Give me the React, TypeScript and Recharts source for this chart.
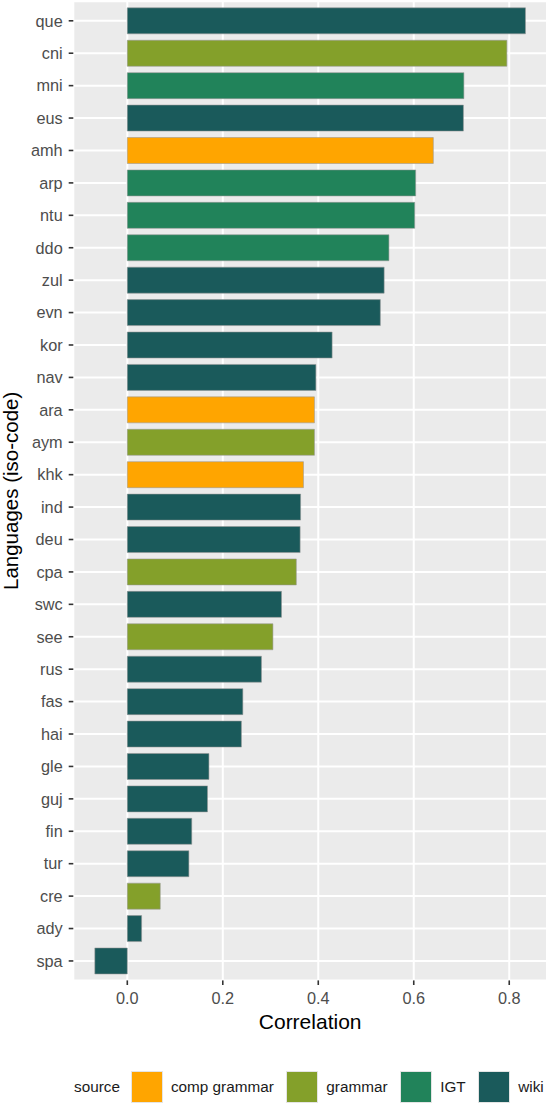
import { Bar, BarChart, CartesianGrid, Cell, XAxis, YAxis } from "recharts";

const languages = [
  "que", "cni", "mni", "eus", "amh", "arp", "ntu", "ddo", "zul", "evn",
  "kor", "nav", "ara", "aym", "khk", "ind", "deu", "cpa", "swc", "see",
  "rus", "fas", "hai", "gle", "guj", "fin", "tur", "cre", "ady", "spa",
];
const correlations = [
  0.834, 0.795, 0.705, 0.704, 0.641, 0.604, 0.602, 0.548, 0.538, 0.53,
  0.429, 0.395, 0.392, 0.392, 0.369, 0.363, 0.362, 0.354, 0.323, 0.305,
  0.281, 0.242, 0.239, 0.171, 0.168, 0.135, 0.129, 0.069, 0.03, -0.068,
];
const languageSources = [
  "wiki", "grammar", "IGT", "wiki", "comp grammar", "IGT", "IGT", "IGT", "wiki", "wiki",
  "wiki", "wiki", "comp grammar", "grammar", "comp grammar", "wiki", "wiki", "grammar", "wiki", "grammar",
  "wiki", "wiki", "wiki", "wiki", "wiki", "wiki", "wiki", "grammar", "wiki", "wiki",
];
const sourceNames = ["comp grammar", "grammar", "IGT", "wiki"];
const sourceColors = ["#FFA500", "#84A02A", "#21835A", "#1A5A5B"];
const majorTicks = [0, 0.2, 0.4, 0.6, 0.8];
const minorTicks = [-0.1, 0.1, 0.3, 0.5, 0.7];

const data = languages.map((lang, i) => ({
  lang,
  value: correlations[i],
  source: languageSources[i],
}));

const FONT = '"Liberation Sans", Arial, Helvetica, sans-serif';
const domain: [number, number] = [-0.1131, 0.8791];

function colorOf(source: string) {
  return sourceColors[sourceNames.indexOf(source)];
}

export default function App() {
  return (
    <div style={{ position: "relative", width: 548, height: 1104, fontFamily: FONT }}>
      <style>{`body{margin:0}`}</style>
      <BarChart
        width={548}
        height={1104}
        data={data}
        layout="vertical"
        barCategoryGap="10%"
        margin={{ top: 1.35, right: 1, left: 0, bottom: 63.6 }}
      >
        <CartesianGrid fill="#EBEBEB" stroke="#FFFFFF" strokeWidth={2} />
        <CartesianGrid xAxisId="minor" horizontal={false} stroke="#FFFFFF" strokeWidth={1} />
        <XAxis
          type="number"
          domain={domain}
          ticks={majorTicks}
          tickFormatter={(v: number) => v.toFixed(1)}
          axisLine={false}
          tickLine={{ stroke: "#333333", strokeWidth: 1.6 }}
          tickSize={4.6}
          tickMargin={7}
          height={60}
          tick={{ fill: "#4D4D4D", fontSize: 16.3, fontFamily: FONT }}
          label={(props: any) => {
            const vb = props.viewBox;
            return (
              <text
                x={vb.x + vb.width / 2}
                y={1029.3}
                textAnchor="middle"
                fill="#000000"
                fontSize={21}
                fontFamily={FONT}
              >
                Correlation
              </text>
            );
          }}
        />
        <XAxis xAxisId="minor" type="number" domain={domain} ticks={minorTicks} hide />
        <YAxis
          type="category"
          dataKey="lang"
          width={73.3}
          axisLine={false}
          tickLine={{ stroke: "#333333", strokeWidth: 1.6 }}
          tickSize={4.6}
          tickMargin={6}
          padding={{ top: 3.24, bottom: 3.24 }}
          interval={0}
          tick={{ fill: "#4D4D4D", fontSize: 16.3, fontFamily: FONT }}
          label={(props: any) => {
            const vb = props.viewBox;
            const cy = vb.y + vb.height / 2;
            return (
              <text
                x={18}
                y={cy}
                transform={`rotate(-90 18 ${cy})`}
                textAnchor="middle"
                fill="#000000"
                fontSize={20.5}
                fontFamily={FONT}
              >
                Languages (iso-code)
              </text>
            );
          }}
        />
        <Bar
          dataKey="value"
          isAnimationActive={false}
          stroke="rgba(150,150,150,0.55)"
          strokeWidth={1}
        >
          {data.map((d) => (
            <Cell key={d.lang} fill={colorOf(d.source)} />
          ))}
        </Bar>
      </BarChart>
      <div
        style={{
          position: "absolute",
          left: 74,
          top: 1070.7,
          height: 32,
          display: "flex",
          alignItems: "center",
          fontSize: 15.3,
          color: "#1A1A1A",
          whiteSpace: "nowrap",
        }}
      >
        <span style={{ marginRight: 10.7 }}>source</span>
        {sourceNames.map((name, i) => (
          <div key={name} style={{ display: "flex", alignItems: "center", marginRight: 12.3 }}>
            <span
              style={{
                display: "inline-block",
                width: 30,
                height: 30,
                background: sourceColors[i],
                border: "0.8px solid #E4E4E4",
                marginRight: 8.3,
              }}
            />
            <span>{name}</span>
          </div>
        ))}
      </div>
    </div>
  );
}
